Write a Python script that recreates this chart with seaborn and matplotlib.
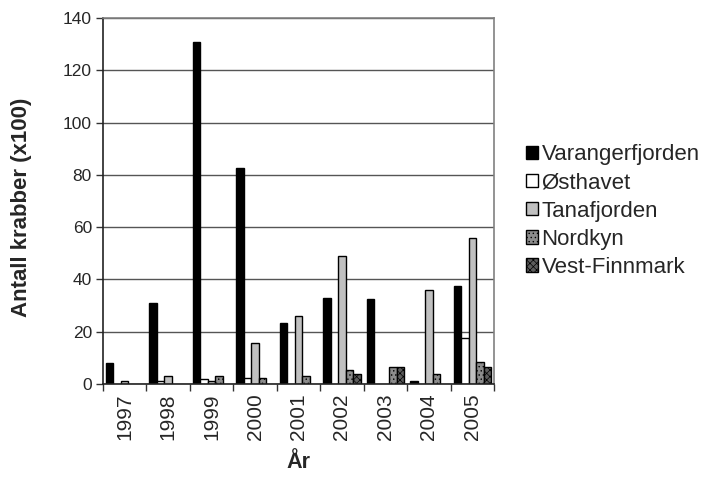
import numpy as np
import pandas as pd
import seaborn as sns
import matplotlib
matplotlib.use("Agg")
import matplotlib.pyplot as plt
from matplotlib.patches import Patch

years = ["1997", "1998", "1999", "2000", "2001", "2002", "2003", "2004", "2005"]
series = ["Varangerfjorden", "Østhavet", "Tanafjorden", "Nordkyn", "Vest-Finnmark"]
varangerfjorden = [8.0, 31.0, 131.0, 82.8, 23.2, 33.0, 32.4, 1.0, 37.6]
osthavet = [np.nan, 1.0, 1.9, 2.2, np.nan, np.nan, np.nan, np.nan, 17.7]
tanafjorden = [1.0, 3.2, 1.0, 15.6, 26.0, 49.1, np.nan, 36.0, 56.0]
nordkyn = [np.nan, np.nan, 3.2, 2.4, 3.2, 5.4, 6.4, 3.9, 8.5]
vest_finnmark = [np.nan, np.nan, np.nan, np.nan, np.nan, 3.8, 6.4, np.nan, 6.4]

colors = ["#000000", "#ffffff", "#c0c0c0", "#8c8c8c", "#5c5c5c"]
hatches = [None, None, None, "....", "xxxxx"]

values = [varangerfjorden, osthavet, tanafjorden, nordkyn, vest_finnmark]
rows = []
for s, vals in zip(series, values):
    for y, v in zip(years, vals):
        rows.append({"År": y, "Serie": s, "Antall": v})
df = pd.DataFrame(rows)

sns.set_theme(style="white")
plt.rcParams["font.family"] = ["Liberation Sans", "DejaVu Sans"]
plt.rcParams["hatch.color"] = "#555555"
plt.rcParams["hatch.linewidth"] = 0.5

fig = plt.figure(figsize=(7.06, 4.82), dpi=100)
ax = fig.add_axes([103/706, 1 - 384/482, (494 - 103)/706, (384 - 18)/482])

sns.barplot(data=df, x="År", y="Antall", hue="Serie", order=years,
            hue_order=series, palette=colors, width=0.862, dodge=True,
            edgecolor="black", linewidth=1.0, ax=ax, legend=False,
            saturation=1, errorbar=None)

n_years = len(years)
for i, cont in enumerate(ax.containers):
    if hatches[i]:
        for bar in cont:
            bar.set_hatch(hatches[i])

ax.set_xlim(-0.5, n_years - 0.5)
ax.set_ylim(0, 140)
ax.set_yticks(np.arange(0, 141, 20))
ax.yaxis.grid(True, color="#555555", linewidth=1.0)
ax.set_axisbelow(True)

ax.set_xticks(range(n_years))
ax.set_xticklabels(years, rotation=90, fontsize=15)
ax.tick_params(axis="x", which="major", length=0, pad=7)
ax.set_xticks(np.arange(-0.5, n_years, 1.0), minor=True)
ax.tick_params(axis="x", which="minor", length=5, width=1, color="#333333", direction="out")
ax.tick_params(axis="y", length=5, width=1, color="#333333", direction="out", labelsize=12.5, pad=3)
ax.tick_params(axis="both", bottom=True, left=True)
ax.xaxis.set_tick_params(which="minor", bottom=True)

for side in ["left", "bottom"]:
    ax.spines[side].set_color("#222222")
    ax.spines[side].set_linewidth(1.2)
for side in ["top", "right"]:
    ax.spines[side].set_color("#808080")
    ax.spines[side].set_linewidth(1.2)

ax.set_ylabel("Antall krabber (x100)", fontsize=16, fontweight="bold")
ax.yaxis.set_label_coords(-0.182, 0.484)
ax.set_xlabel("År", fontsize=15.5, fontweight="bold")
ax.xaxis.set_label_coords(0.4987, -0.185)

handles = [Patch(facecolor=c, edgecolor="black", hatch=h, linewidth=1.0)
           for c, h in zip(colors, hatches)]
fig.legend(handles, series, loc="center left", bbox_to_anchor=(0.745, 0.562),
           frameon=False, fontsize=16, handlelength=0.55, handleheight=0.55,
           handletextpad=0.15, labelspacing=0.32, borderaxespad=0, borderpad=0)

fig.savefig("out.png", dpi=100)
